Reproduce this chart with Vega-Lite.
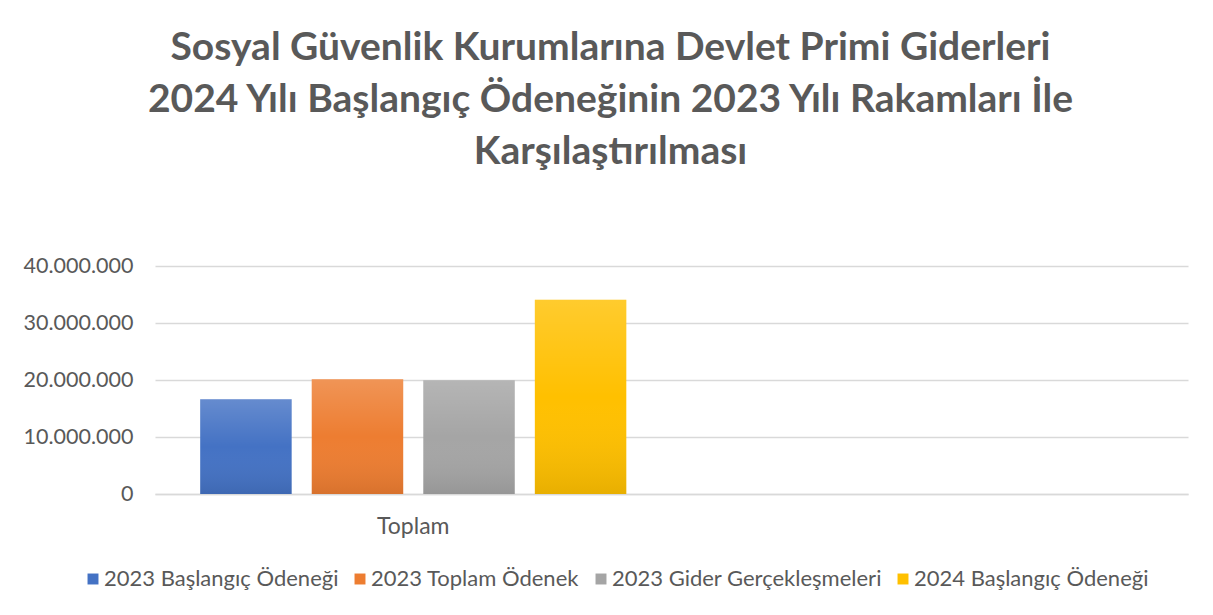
{
  "$schema": "https://vega.github.io/schema/vega-lite/v6.json",
  "width": 1033,
  "height": 228,
  "autosize": {"type": "none"},
  "padding": {"left": 155, "top": 266, "right": 25, "bottom": 121},
  "background": "white",
  "config": {
    "locale": {"number": {"decimal": ",", "thousands": ".", "grouping": [3], "currency": ["", " TL"]}},
    "view": {"stroke": null},
    "font": "Lato"
  },
  "title": {
    "text": ["Sosyal Güvenlik Kurumlarına Devlet Primi Giderleri", "2024 Yılı Başlangıç Ödeneğinin 2023 Yılı Rakamları İle", "Karşılaştırılması"],
    "font": "Lato",
    "fontSize": 39,
    "fontWeight": "bold",
    "color": "#595959",
    "lineHeight": 52,
    "anchor": "middle",
    "dx": -61,
    "baseline": "alphabetic",
    "offset": 52
  },
  "data": {
    "values": [
      {"kategori": "Toplam", "seri": "2023 Başlangıç Ödeneği", "deger": 16630000},
      {"kategori": "Toplam", "seri": "2023 Toplam Ödenek", "deger": 20120000},
      {"kategori": "Toplam", "seri": "2023 Gider Gerçekleşmeleri", "deger": 19950000},
      {"kategori": "Toplam", "seri": "2024 Başlangıç Ödeneği", "deger": 34080000}
    ]
  },
  "encoding": {
    "x": {
      "field": "kategori",
      "type": "nominal",
      "scale": {"domain": ["Toplam", " "], "paddingInner": 0.175, "paddingOuter": 0.0875},
      "axis": {
        "title": null,
        "labelAngle": 0,
        "labelFont": "Lato",
        "labelFontSize": 23,
        "labelColor": "#595959",
        "labelBaseline": "alphabetic",
        "labelPadding": 39,
        "ticks": false,
        "domainColor": "#D9D9D9",
        "domainWidth": 1.5,
        "grid": false
      }
    },
    "xOffset": {
      "field": "seri",
      "type": "nominal",
      "sort": ["2023 Başlangıç Ödeneği", "2023 Toplam Ödenek", "2023 Gider Gerçekleşmeleri", "2024 Başlangıç Ödeneği"],
      "scale": {"paddingInner": 0.18, "paddingOuter": 0}
    },
    "y": {
      "field": "deger",
      "type": "quantitative",
      "scale": {"domain": [0, 40000000], "nice": false},
      "axis": {
        "title": null,
        "values": [0, 10000000, 20000000, 30000000, 40000000],
        "format": ",d",
        "labelFont": "Lato",
        "labelFontSize": 21.5,
        "labelColor": "#595959",
        "labelPadding": 22,
        "ticks": false,
        "domain": false,
        "gridColor": "#D9D9D9",
        "gridWidth": 1.5
      }
    }
  },
  "layer": [
    {
      "mark": {"type": "bar"},
      "encoding": {
        "color": {
          "field": "seri",
          "type": "nominal",
          "sort": ["2023 Başlangıç Ödeneği", "2023 Toplam Ödenek", "2023 Gider Gerçekleşmeleri", "2024 Başlangıç Ödeneği"],
          "scale": {"range": ["#4472C4", "#ED7D31", "#A5A5A5", "#FFC000"]},
          "legend": {
            "title": null,
            "orient": "none",
            "direction": "horizontal",
            "legendX": -73,
            "legendY": 302,
            "symbolType": "square",
            "symbolSize": 120,
            "symbolStrokeWidth": 0,
            "symbolOpacity": 1,
            "labelFont": "Lato",
            "labelFontSize": 22,
            "labelColor": "#595959",
            "labelLimit": 400,
            "labelOffset": 0,
            "columnPadding": 10
          }
        }
      }
    },
    {
      "mark": {
        "type": "bar",
        "fill": {
          "gradient": "linear",
          "x1": 0, "y1": 0, "x2": 0, "y2": 1,
          "stops": [
            {"offset": 0, "color": "rgba(255,255,255,0.18)"},
            {"offset": 0.5, "color": "rgba(255,255,255,0)"},
            {"offset": 1, "color": "rgba(0,0,0,0.09)"}
          ]
        }
      }
    }
  ]
}
